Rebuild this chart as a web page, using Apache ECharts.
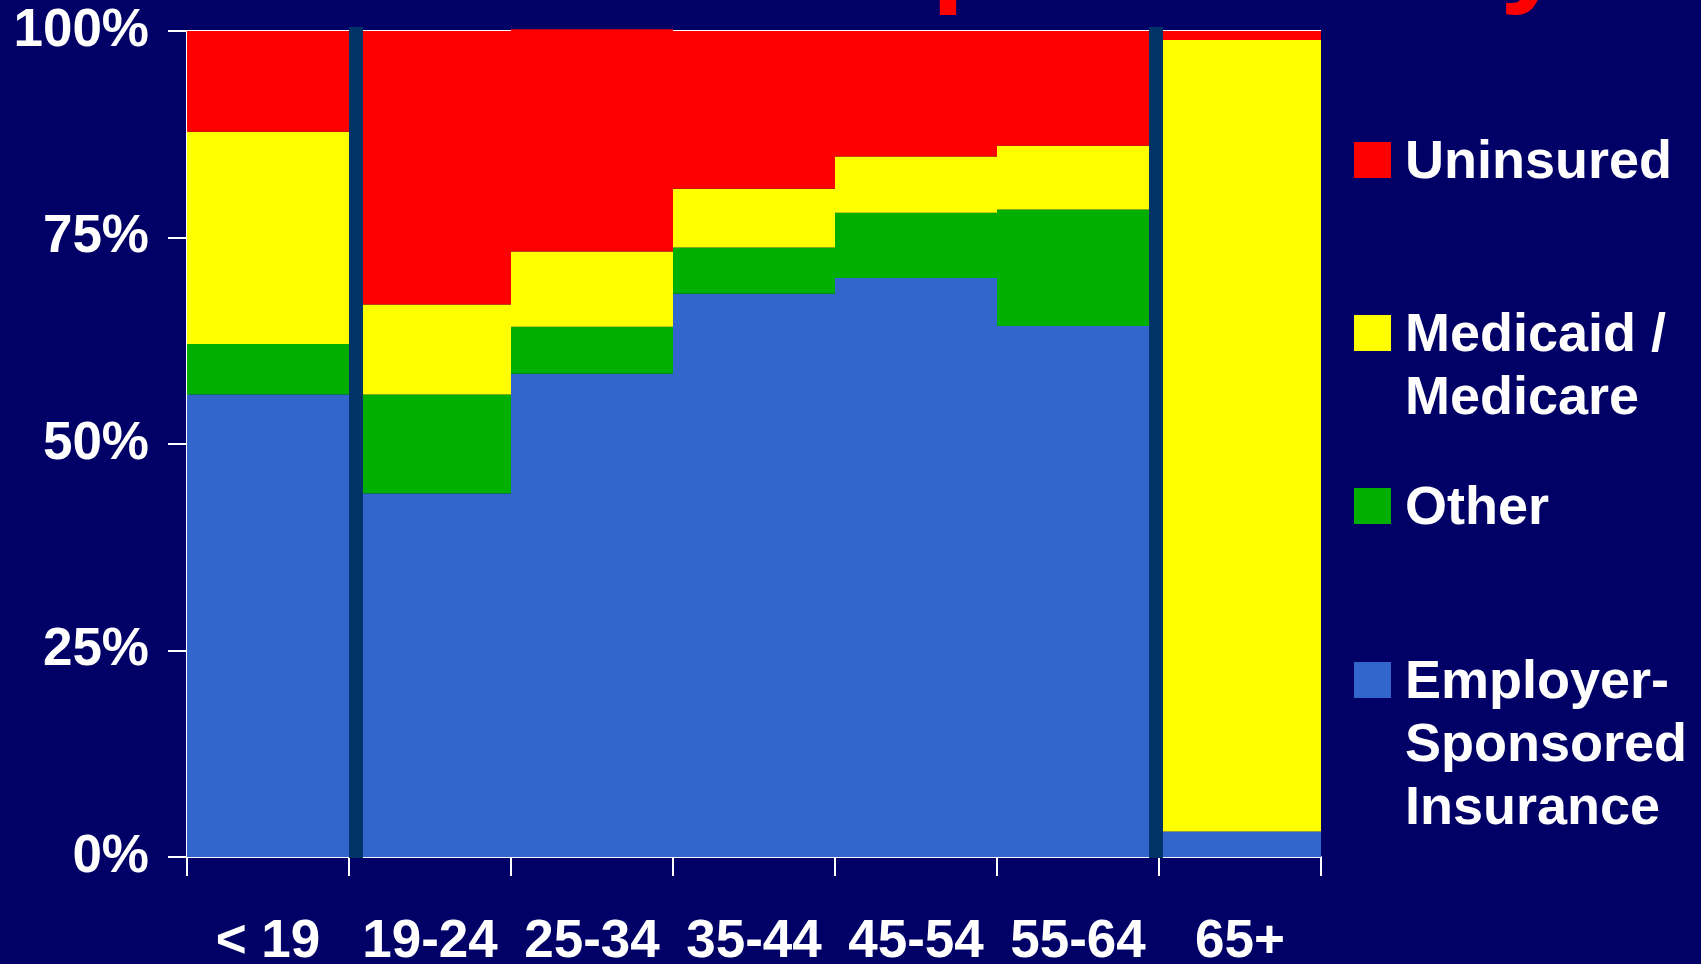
<!DOCTYPE html>
<html>
<head>
<meta charset="utf-8">
<script src="https://cdn.jsdelivr.net/npm/echarts@6/dist/echarts.min.js"></script>
<style>
  html, body { margin: 0; padding: 0; background: #000066; }
  #chart { width: 1701px; height: 964px; }
</style>
</head>
<body>
<div id="chart"></div>
<script>
// Health coverage by age group (share of population, %)
const categories = ['< 19', '19-24', '25-34', '35-44', '45-54', '55-64', '65+'];
const employer   = [56.0, 44.0, 58.5, 68.2, 70.1, 64.3, 3.1];
const other      = [6.1, 12.0, 5.7, 5.6, 7.9, 14.1, 0];
const medicaid   = [25.7, 10.9, 9.1, 7.1, 6.8, 7.7, 95.8];
const uninsured  = [12.2, 33.1, 26.9, 19.1, 15.2, 13.9, 1.1];
const yTicks     = [0, 25, 50, 75, 100];

const seriesNames = ['Employer-Sponsored Insurance', 'Other', 'Medicaid / Medicare', 'Uninsured'];
const legendLines = [['Uninsured'], ['Medicaid /', 'Medicare'], ['Other'], ['Employer-', 'Sponsored', 'Insurance']];
const titleText = 'Uninsured Population by Cohort';

const FONT = '"Liberation Sans", Arial, Helvetica, sans-serif';
const COLORS = { blue: '#3366CC', green: '#00AF00', yellow: '#FFFF00', red: '#FF0000' };

const chart = echarts.init(document.getElementById('chart'), null, { renderer: 'canvas' });

function barSeries(name, data, color, extra) {
  return Object.assign({
    name: name,
    type: 'bar',
    stack: 'coverage',
    data: data,
    barCategoryGap: '0%',
    itemStyle: { color: color },
    emphasis: { disabled: true },
    animation: false
  }, extra || {});
}

chart.setOption({
  backgroundColor: '#000066',
  animation: false,
  // plot width of 7 x 162 px keeps every column edge on a whole pixel
  grid: { left: 187, right: 380, top: 31, bottom: 107, containLabel: false, outerBoundsMode: 'none' },
  xAxis: {
    type: 'category',
    data: categories,
    boundaryGap: true,
    axisLine: { show: true, lineStyle: { color: '#FFFFFF', width: 2 } },
    axisTick: { show: true, length: 19, lineStyle: { color: '#FFFFFF', width: 2 } },
    axisLabel: { color: '#FFFFFF', fontFamily: FONT, fontWeight: 'bold', fontSize: 53, margin: 59, interval: 0 }
  },
  yAxis: {
    type: 'value',
    min: yTicks[0],
    max: yTicks[yTicks.length - 1],
    interval: yTicks[1] - yTicks[0],
    axisLine: { show: true, lineStyle: { color: '#FFFFFF', width: 2 } },
    axisTick: { show: true, length: 19, lineStyle: { color: '#FFFFFF', width: 2 } },
    axisLabel: { color: '#FFFFFF', fontFamily: FONT, fontWeight: 'bold', fontSize: 53, margin: 38, formatter: '{value}%' },
    splitLine: {
      show: true,
      lineStyle: { width: 2, color: yTicks.map((t, i) => i === yTicks.length - 1 ? '#FFFFFF' : 'rgba(0,0,0,0)') }
    }
  },
  series: [
    barSeries(seriesNames[0], employer, COLORS.blue),
    barSeries(seriesNames[1], other, COLORS.green),
    barSeries(seriesNames[2], medicaid, COLORS.yellow),
    barSeries(seriesNames[3], uninsured, COLORS.red, { clip: false })
  ]
});

// Vertical separators between the youth, working-age and retiree groups
function boundaryX(i) {
  const a = chart.convertToPixel({ xAxisIndex: 0 }, categories[i]);
  const b = chart.convertToPixel({ xAxisIndex: 0 }, categories[i + 1]);
  return (a + b) / 2;
}
const yTop = chart.convertToPixel({ yAxisIndex: 0 }, 100);
const yBottom = chart.convertToPixel({ yAxisIndex: 0 }, 0);
const dividers = [
  { after: 0, shift: 7 },
  { after: 5, shift: -3 }
];
const dividerWidth = 14;

const graphics = dividers.map(d => ({
  type: 'rect',
  z: 100,
  shape: {
    x: Math.round(boundaryX(d.after) + d.shift - dividerWidth / 2),
    y: Math.round(yTop - 4),
    width: dividerWidth,
    height: Math.round(yBottom - yTop + 5)
  },
  style: { fill: '#003366' }
}));

// Legend, right of the plot, with each swatch aligned to the first text line
const legendColors = [COLORS.red, COLORS.yellow, COLORS.green, COLORS.blue];
const legendRows = [160, 333, 506, 680];
const lineH = 63;
legendLines.forEach((lines, k) => {
  graphics.push({
    type: 'rect',
    z: 100,
    shape: { x: 1354, y: legendRows[k] - 18, width: 37, height: 36 },
    style: { fill: legendColors[k] }
  });
  lines.forEach((txt, j) => {
    graphics.push({
      type: 'text',
      z: 100,
      x: 1405,
      y: legendRows[k] + 3 + j * lineH,
      style: {
        text: txt,
        fill: '#FFFFFF',
        font: 'bold 54px ' + FONT,
        align: 'left',
        verticalAlign: 'middle'
      }
    });
  });
});

// Slide heading above the chart area
graphics.push({
  type: 'text',
  z: 100,
  x: 158,
  y: -43,
  style: {
    text: titleText,
    fill: '#FF0000',
    font: 'bold 119px ' + FONT,
    align: 'left',
    verticalAlign: 'middle'
  }
});

chart.setOption({ graphic: graphics });
</script>
</body>
</html>
